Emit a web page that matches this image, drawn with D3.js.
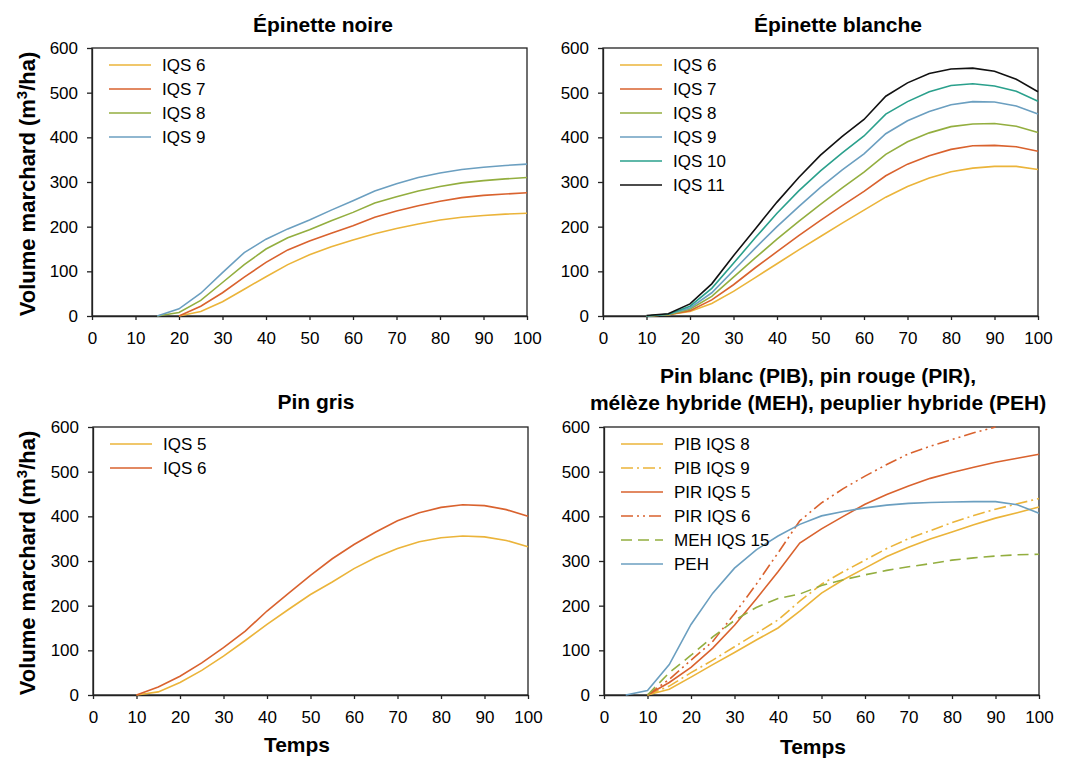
<!DOCTYPE html>
<html>
<head>
<meta charset="utf-8">
<script src="https://cdn.jsdelivr.net/npm/d3@7"></script>
<style>
  body { margin: 0; background: #fff; }
  text { font-family: "Liberation Sans", Arial, sans-serif; fill: #000; }
</style>
</head>
<body>
<svg id="chart" width="1067" height="759"></svg>
<script>
// ages (x axis), one point every 5 years
var AGES = [0, 5, 10, 15, 20, 25, 30, 35, 40, 45, 50, 55, 60, 65, 70, 75, 80, 85, 90, 95, 100];
var X_TICKS = [0, 10, 20, 30, 40, 50, 60, 70, 80, 90, 100];
var Y_TICKS = [0, 100, 200, 300, 400, 500, 600];

// Épinette noire
var EPN_NAMES = ['IQS 6', 'IQS 7', 'IQS 8', 'IQS 9'];
var EPN_IQS6 = [null, null, null, null, 0, 10, 32, 60, 88, 115, 137, 155, 170, 184, 196, 206, 215, 221, 225, 228, 230];
var EPN_IQS7 = [null, null, null, null, 0, 22, 52, 87, 120, 148, 168, 185, 202, 221, 235, 247, 257, 265, 270, 273, 276];
var EPN_IQS8 = [null, null, null, 0, 8, 35, 75, 115, 150, 175, 193, 213, 232, 253, 267, 280, 290, 298, 303, 307, 310];
var EPN_IQS9 = [null, null, null, 0, 16, 51, 97, 142, 172, 195, 215, 237, 258, 280, 296, 310, 320, 328, 333, 337, 340];

// Épinette blanche
var EPB_NAMES = ['IQS 6', 'IQS 7', 'IQS 8', 'IQS 9', 'IQS 10', 'IQS 11'];
var EPB_IQS6 = [null, null, 0, 3, 10, 28, 55, 86, 117, 148, 178, 208, 237, 266, 290, 309, 323, 331, 335, 335, 328];
var EPB_IQS7 = [null, null, 0, 3, 12, 36, 70, 108, 144, 180, 214, 247, 279, 314, 340, 359, 373, 381, 382, 379, 369];
var EPB_IQS8 = [null, null, 0, 3, 15, 44, 87, 130, 172, 212, 250, 287, 322, 362, 390, 410, 424, 430, 431, 425, 411];
var EPB_IQS9 = [null, null, 0, 4, 18, 52, 102, 152, 200, 245, 288, 327, 363, 408, 437, 458, 473, 480, 479, 470, 452];
var EPB_IQS10 = [null, null, 0, 4, 22, 62, 118, 175, 230, 280, 325, 365, 403, 452, 480, 502, 516, 520, 515, 503, 481];
var EPB_IQS11 = [null, null, 1, 5, 27, 72, 135, 195, 255, 310, 360, 402, 440, 492, 522, 543, 553, 555, 548, 530, 502];

// Pin gris
var PIG_NAMES = ['IQS 5', 'IQS 6'];
var PIG_IQS5 = [null, null, 0, 7, 28, 55, 87, 122, 158, 192, 225, 253, 283, 308, 328, 343, 352, 356, 354, 346, 332];
var PIG_IQS6 = [null, null, 0, 18, 42, 72, 106, 143, 188, 228, 268, 305, 337, 365, 390, 408, 420, 426, 424, 415, 400];

// Pin blanc, pin rouge, mélèze hybride, peuplier hybride
var MIX_NAMES = ['PIB IQS 8', 'PIB IQS 9', 'PIR IQS 5', 'PIR IQS 6', 'MEH IQS 15', 'PEH'];
var PIB_IQS8 = [null, null, 0, 13, 40, 68, 95, 123, 150, 188, 228, 258, 284, 310, 331, 349, 365, 381, 396, 408, 421];
var PIB_IQS9 = [null, null, 0, 20, 50, 78, 108, 138, 168, 210, 248, 276, 302, 328, 350, 368, 386, 402, 416, 428, 440];
var PIR_IQS5 = [null, null, 0, 28, 62, 105, 156, 215, 276, 340, 372, 400, 427, 449, 468, 485, 498, 510, 521, 530, 539];
var PIR_IQS6 = [null, null, 0, 35, 78, 120, 182, 248, 318, 390, 430, 462, 490, 516, 540, 557, 572, 587, 600, null, null];
var MEH_IQS15 = [null, null, 0, 50, 89, 130, 167, 196, 216, 226, 245, 258, 269, 279, 287, 294, 302, 307, 311, 314, 315];
var PEH = [null, 0, 10, 68, 158, 228, 284, 325, 356, 382, 401, 411, 419, 425, 429, 431, 432, 433, 433, 426, 407];

var YELLOW = '#ebb43a', RED = '#d9622e', GREEN = '#93ae3f',
    BLUE = '#6b9fc0', TEAL = '#2aa08c', BLACK = '#111111';

var DASH_DOT = '12,4,2,4', DASH_DOT_DOT = '12,4,2,4,2,4', DASH = '11,6';

var svg = d3.select('#chart');

function series(name, values, color, dash) {
  return {
    name: name,
    color: color,
    dash: dash || null,
    points: AGES.map(function(a, i) { return {x: a, y: values[i]}; })
  };
}

/**
 * Draws one panel: frame, axes, lines and legend.
 */
function drawPanel(opt) {
  var x = d3.scaleLinear().domain([0, 100]).range([opt.left, opt.right]);
  var y = d3.scaleLinear().domain([0, 600]).range([opt.bottom, opt.top]);
  var g = svg.append('g');

  // frame
  g.append('rect')
      .attr('x', opt.left).attr('y', opt.top)
      .attr('width', opt.right - opt.left)
      .attr('height', opt.bottom - opt.top)
      .attr('fill', 'none')
      .attr('stroke', '#222')
      .attr('stroke-width', 1.3);

  var yAxis = g.append('g')
      .attr('transform', 'translate(' + opt.left + ',0)')
      .call(d3.axisLeft(y).tickValues(Y_TICKS).tickSize(5).tickSizeOuter(0).tickPadding(9));
  var xAxis = g.append('g')
      .attr('transform', 'translate(0,' + opt.bottom + ')')
      .call(d3.axisBottom(x).tickValues(X_TICKS).tickSize(4).tickSizeOuter(0).tickPadding(12));

  [yAxis, xAxis].forEach(function(ax) {
    ax.selectAll('path.domain').attr('stroke', '#222').attr('stroke-width', 1.3);
    ax.selectAll('.tick line').attr('stroke', '#222').attr('stroke-width', 1.3);
    ax.selectAll('.tick text')
        .attr('font-family', '"Liberation Sans", Arial, sans-serif')
        .attr('font-size', 17)
        .attr('fill', '#000');
  });

  var line = d3.line()
      .defined(function(d) { return d.y !== null; })
      .x(function(d) { return x(d.x); })
      .y(function(d) { return y(d.y); });

  g.selectAll('path.serie')
      .data(opt.series)
      .enter().append('path')
      .attr('class', 'serie')
      .attr('d', function(d) { return line(d.points); })
      .attr('fill', 'none')
      .attr('stroke', function(d) { return d.color; })
      .attr('stroke-width', 1.6)
      .attr('stroke-dasharray', function(d) { return d.dash; });

  // legend
  var leg = g.selectAll('g.legend')
      .data(opt.series)
      .enter().append('g')
      .attr('class', 'legend')
      .attr('transform', function(d, i) {
        return 'translate(' + (opt.left + 17) + ',' + (opt.top + 17 + i * 24) + ')';
      });
  leg.append('line')
      .attr('x1', 0).attr('x2', 42)
      .attr('stroke', function(d) { return d.color; })
      .attr('stroke-width', 1.6)
      .attr('stroke-dasharray', function(d) { return d.dash; });
  leg.append('text')
      .attr('x', 53).attr('dy', '0.35em')
      .attr('font-size', 17)
      .text(function(d) { return d.name; });

  // title
  opt.title.forEach(function(t, i) {
    svg.append('text')
        .attr('x', opt.titleX)
        .attr('y', opt.titleY + i * 27)
        .attr('text-anchor', 'middle')
        .attr('font-size', 21)
        .attr('font-weight', 'bold')
        .text(t);
  });

  if (opt.yTitle) {
    var yt = svg.append('text')
        .attr('transform', 'translate(35,' + ((opt.top + opt.bottom) / 2 + 2) + ') rotate(-90)')
        .attr('text-anchor', 'middle')
        .attr('font-size', 22)
        .attr('font-weight', 'bold');
    yt.append('tspan').text('Volume marchard (m');
    yt.append('tspan').attr('baseline-shift', 'super').attr('font-size', 15).text('3');
    yt.append('tspan').text('/ha)');
  }

  if (opt.xTitle) {
    svg.append('text')
        .attr('x', opt.xTitleX)
        .attr('y', opt.xTitleY)
        .attr('text-anchor', 'middle')
        .attr('font-size', 21)
        .attr('font-weight', 'bold')
        .text('Temps');
  }
}

var epnValues = [EPN_IQS6, EPN_IQS7, EPN_IQS8, EPN_IQS9];
var epnColors = [YELLOW, RED, GREEN, BLUE];
drawPanel({
  left: 92, right: 527, top: 48, bottom: 316,
  title: ['Épinette noire'], titleX: 323, titleY: 32,
  yTitle: true,
  series: EPN_NAMES.map(function(n, i) { return series(n, epnValues[i], epnColors[i]); })
});

var epbValues = [EPB_IQS6, EPB_IQS7, EPB_IQS8, EPB_IQS9, EPB_IQS10, EPB_IQS11];
var epbColors = [YELLOW, RED, GREEN, BLUE, TEAL, BLACK];
drawPanel({
  left: 603, right: 1038, top: 48, bottom: 316,
  title: ['Épinette blanche'], titleX: 838, titleY: 32,
  series: EPB_NAMES.map(function(n, i) { return series(n, epbValues[i], epbColors[i]); })
});

var pigValues = [PIG_IQS5, PIG_IQS6];
var pigColors = [YELLOW, RED];
drawPanel({
  left: 93, right: 528, top: 427, bottom: 695,
  title: ['Pin gris'], titleX: 316, titleY: 409,
  yTitle: true, xTitle: true, xTitleX: 297, xTitleY: 752,
  series: PIG_NAMES.map(function(n, i) { return series(n, pigValues[i], pigColors[i]); })
});

var mixValues = [PIB_IQS8, PIB_IQS9, PIR_IQS5, PIR_IQS6, MEH_IQS15, PEH];
var mixColors = [YELLOW, YELLOW, RED, RED, GREEN, BLUE];
var mixDashes = [null, DASH_DOT, null, DASH_DOT_DOT, DASH, null];
drawPanel({
  left: 604, right: 1039, top: 427, bottom: 695,
  title: ['Pin blanc (PIB), pin rouge (PIR),', 'mélèze hybride (MEH), peuplier hybride (PEH)'],
  titleX: 818, titleY: 383,
  xTitle: true, xTitleX: 813, xTitleY: 754,
  series: MIX_NAMES.map(function(n, i) { return series(n, mixValues[i], mixColors[i], mixDashes[i]); })
});
</script>
</body>
</html>
